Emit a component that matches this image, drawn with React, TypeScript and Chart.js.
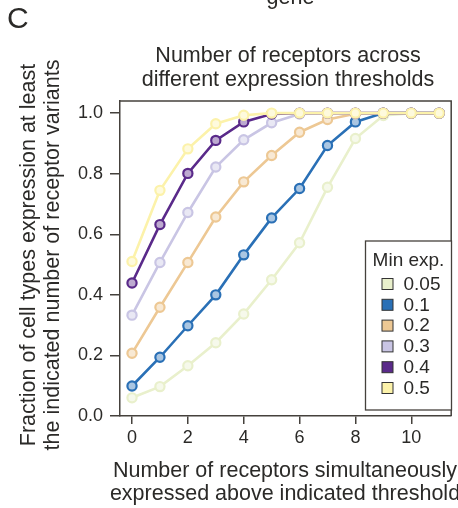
import React, { useEffect, useRef } from "react";
import { Chart, registerables } from "chart.js";

Chart.register(...registerables);

// ---- data ----
const receptorCounts = [0, 1, 2, 3, 4, 5, 6, 7, 8, 9, 10, 11];
const thresholds = ["0.05", "0.1", "0.2", "0.3", "0.4", "0.5"];
const frac005 = [0.06, 0.097, 0.166, 0.242, 0.337, 0.45, 0.572, 0.755, 0.916, 0.992, 1, 1];
const frac01 = [0.099, 0.194, 0.298, 0.4, 0.532, 0.654, 0.751, 0.893, 0.971, 1, 1, 1];
const frac02 = [0.207, 0.359, 0.507, 0.657, 0.773, 0.86, 0.937, 0.979, 0.998, 1, 1, 1];
const frac03 = [0.333, 0.507, 0.672, 0.822, 0.912, 0.968, 0.997, 1, 1, 1, 1, 1];
const frac04 = [0.439, 0.632, 0.801, 0.91, 0.971, 0.997, 1, 1, 1, 1, 1, 1];
const frac05 = [0.51, 0.745, 0.882, 0.965, 0.993, 1, 1, 1, 1, 1, 1, 1];
const seriesValues = [frac005, frac01, frac02, frac03, frac04, frac05];
const seriesColors = ["#E9F0CC", "#2A70B6", "#EDC894", "#C9C5E4", "#5A2A8A", "#FCF2AA"];
const xTickValues = [0, 2, 4, 6, 8, 10];
const yTickValues = [0, 0.2, 0.4, 0.6, 0.8, 1.0];
const yTickLabels = ["0.0", "0.2", "0.4", "0.6", "0.8", "1.0"];

const titleLines = ["Number of receptors across", "different expression thresholds"];
const xTitleLines = ["Number of receptors simultaneously", "expressed above indicated threshold"];
const yTitleLines = ["Fraction of cell types expression at least", "the indicated number of receptor variants"];
const legendTitle = "Min exp.";
const panelLetter = "C";
const topFragment = "gene";

const FONT = '"Liberation Sans", Arial, Helvetica, sans-serif';
const TEXT = "#2b2a28";
const AXIS = "#45413c";

function tint(hex: string, amt: number) {
  const n = parseInt(hex.slice(1), 16);
  const r = (n >> 16) & 255, g = (n >> 8) & 255, b = n & 255;
  const m = (c: number) => Math.round(c + (255 - c) * amt);
  return `rgb(${m(r)},${m(g)},${m(b)})`;
}

const decorPlugin = {
  id: "decor",
  afterDraw(chart: any) {
    const ctx = chart.ctx as CanvasRenderingContext2D;
    const { left, right, top, bottom } = chart.chartArea;
    ctx.save();
    // frame top & right
    ctx.strokeStyle = AXIS;
    ctx.lineWidth = 1.5;
    ctx.beginPath();
    ctx.moveTo(left, top);
    ctx.lineTo(right, top);
    ctx.lineTo(right, bottom);
    ctx.stroke();

    ctx.fillStyle = TEXT;
    // panel letter
    ctx.font = `30px ${FONT}`;
    ctx.textAlign = "left";
    ctx.textBaseline = "alphabetic";
    ctx.fillText(panelLetter, 7, 28);
    // fragment from panel above
    ctx.font = `21.5px ${FONT}`;
    ctx.textAlign = "center";
    ctx.fillText(topFragment, 290.5, 4);
    // main title
    ctx.fillText(titleLines[0], 288, 62);
    ctx.fillText(titleLines[1], 288, 86);
    // x title
    ctx.fillText(xTitleLines[0], 285, 477);
    ctx.fillText(xTitleLines[1], 285, 500);
    // y title
    const yBase = [35, 59];
    yTitleLines.forEach((t, i) => {
      ctx.save();
      ctx.translate(yBase[i], 255);
      ctx.rotate(-Math.PI / 2);
      ctx.fillText(t, 0, 0);
      ctx.restore();
    });

    // legend
    const bx = 365.5, by = 241, bw = 86, bh = 169;
    ctx.fillStyle = "#ffffff";
    ctx.fillRect(bx, by, bw, bh);
    ctx.strokeStyle = AXIS;
    ctx.lineWidth = 1.3;
    ctx.strokeRect(bx, by, bw, bh);
    ctx.fillStyle = TEXT;
    ctx.font = `19px ${FONT}`;
    ctx.textAlign = "center";
    ctx.fillText(legendTitle, bx + bw / 2, 266);
    ctx.textAlign = "left";
    ctx.textBaseline = "middle";
    thresholds.forEach((t, i) => {
      const cy = 284 + i * 20.8;
      ctx.fillStyle = seriesColors[i];
      ctx.fillRect(382, cy - 5.5, 11, 11);
      ctx.strokeStyle = "#333";
      ctx.lineWidth = 1;
      ctx.strokeRect(382, cy - 5.5, 11, 11);
      ctx.fillStyle = TEXT;
      ctx.fillText(t, 403.5, cy + 0.5);
    });
    ctx.restore();
  },
};

export default function App() {
  const ref = useRef<HTMLCanvasElement | null>(null);
  useEffect(() => {
    if (!ref.current) return;
    const datasets = thresholds.map((t, i) => ({
      label: t,
      data: receptorCounts.map((x, j) => ({ x, y: seriesValues[i][j] })),
      borderColor: seriesColors[i],
      backgroundColor: tint(seriesColors[i], 0.6),
      pointBorderColor: seriesColors[i],
      pointBackgroundColor: tint(seriesColors[i], 0.6),
      borderWidth: 2.6,
      pointRadius: 4.6,
      pointBorderWidth: 2.2,
      tension: 0,
      order: thresholds.length - 1 - i,
    }));
    const chart = new Chart(ref.current, {
      type: "line",
      data: { datasets },
      plugins: [decorPlugin],
      options: {
        animation: false,
        responsive: false,
        devicePixelRatio: 1,
        layout: { padding: { left: 0, right: 1, top: 101, bottom: 0 } },
        plugins: { legend: { display: false }, tooltip: { enabled: false }, title: { display: false } },
        scales: {
          x: {
            type: "linear",
            min: -0.43,
            max: 11.43,
            afterBuildTicks: (s: any) => {
              s.ticks = xTickValues.map((v) => ({ value: v }));
            },
            afterFit: (s: any) => {
              s.height = 92;
            },
            grid: { drawOnChartArea: false, drawTicks: true, tickLength: 8, color: AXIS, lineWidth: 1.5 },
            border: { display: true, color: AXIS, width: 1.5 },
            ticks: { font: { family: FONT, size: 18 }, color: TEXT, padding: 3, maxRotation: 0, autoSkip: false },
          },
          y: {
            type: "linear",
            min: 0,
            max: 1.04,
            afterBuildTicks: (s: any) => {
              s.ticks = yTickValues.map((v) => ({ value: v }));
            },
            afterFit: (s: any) => {
              s.width = 120;
            },
            grid: { drawOnChartArea: false, drawTicks: true, tickLength: 10, color: AXIS, lineWidth: 1.5 },
            border: { display: true, color: AXIS, width: 1.5 },
            ticks: {
              font: { family: FONT, size: 18 },
              color: TEXT,
              padding: 7,
              autoSkip: false,
              callback: (_v: any, idx: number) => yTickLabels[idx],
            },
          },
        },
      },
    });
    return () => chart.destroy();
  }, []);
  return (
    <div style={{ position: "absolute", left: 0, top: 0, width: 458, height: 508, background: "#fff" }}>
      <canvas ref={ref} width={458} height={508} style={{ display: "block" }} />
    </div>
  );
}
